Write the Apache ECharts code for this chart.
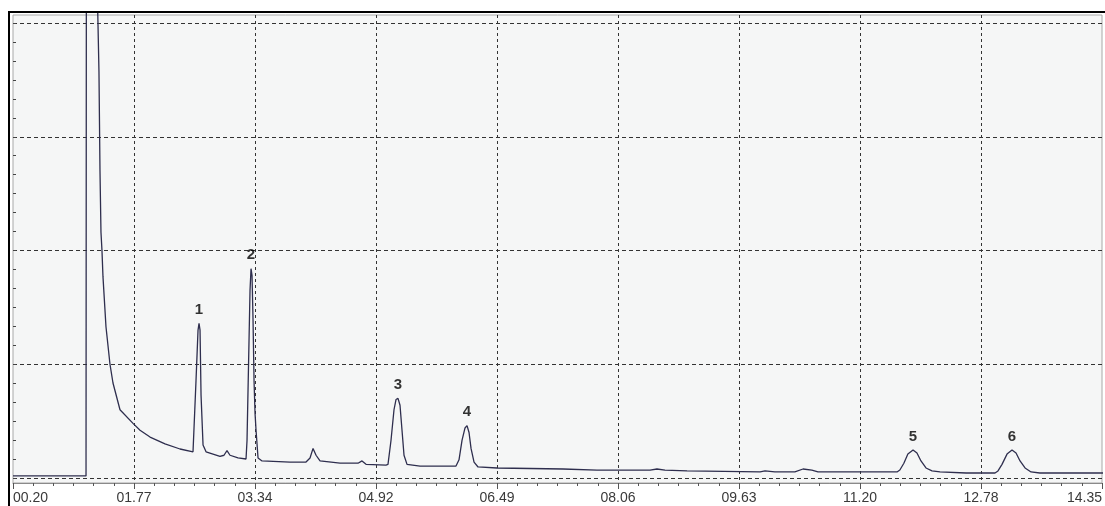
<!DOCTYPE html>
<html>
<head>
<meta charset="utf-8">
<script src="https://cdn.jsdelivr.net/npm/echarts@6/dist/echarts.min.js"></script>
<style>
  html, body { margin: 0; padding: 0; background: #ffffff; }
  #chart { width: 1105px; height: 506px; }
</style>
</head>
<body>
<div id="chart"></div>
<script>
// Retention time axis (min) and its printed tick labels
const timeMin = 0.20;
const timeMax = 14.35;
const timeTickLabels = ['00.20', '01.77', '03.34', '04.92', '06.49', '08.06', '09.63', '11.20', '12.78', '14.35'];

// Detector trace: retention time (min) and signal (arbitrary units, 100 per grid division)
// The solvent front runs off scale; its plateau sits at the top of the frame.
const traceTime = [
  0.200, 1.148, 1.152, 1.300, 1.316, 1.329, 1.342, 1.355, 1.368, 1.407,
  1.459, 1.498, 1.589, 1.758, 1.849, 1.979, 2.173, 2.368, 2.537,
  2.550, 2.576, 2.602, 2.615, 2.628, 2.641, 2.667, 2.706, 2.887, 2.939,
  2.978, 3.017, 3.121, 3.225,
  3.238, 3.264, 3.277, 3.290, 3.303, 3.316, 3.329, 3.342, 3.355, 3.381,
  3.433, 3.796, 4.004, 4.056, 4.095, 4.134, 4.186, 4.445, 4.679, 4.731,
  4.783, 5.042,
  5.068, 5.107, 5.146, 5.172, 5.198, 5.224, 5.250, 5.276, 5.315, 5.484,
  5.951,
  5.990, 6.029, 6.068, 6.094, 6.120, 6.146, 6.185, 6.237, 6.483, 7.340,
  7.781, 8.470, 8.560, 8.664, 8.950, 9.898, 9.963, 10.090, 10.350, 10.456,
  10.570, 10.650, 11.676,
  11.713, 11.765, 11.817, 11.884, 11.935, 11.987, 12.052, 12.130, 12.234, 12.572,
  12.948,
  12.987, 13.039, 13.104, 13.169, 13.221, 13.273, 13.338, 13.416, 13.530, 14.350
];
const traceSignal = [
  1.8, 1.8, 410, 410, 357, 271, 216, 200, 177, 133,
  100, 83.5, 60, 48, 42, 36, 30, 25.5, 23,
  23, 86, 130, 136, 130, 73, 29, 23, 19, 20,
  24, 20, 17.6, 16.7,
  33, 121, 165, 184, 178, 139, 86, 57, 42, 17.6,
  15, 14, 14, 17.6, 26, 20, 15, 13, 13, 15,
  12, 11.4,
  12, 33, 60, 69, 70, 64, 42, 20, 12, 10.5,
  10.5,
  16, 33, 44, 46, 40, 26, 14, 9.7, 8.8, 7.9,
  7, 7, 7.9, 7, 6.2, 5.3, 6.2, 5.3, 5.3, 7.9,
  7, 5.3, 5.3,
  7, 13, 21, 24.6, 22, 15, 8.8, 6.2, 5.3, 4.4,
  4.4,
  6.2, 12, 21, 24.6, 22, 15, 8.8, 5.3, 4.4, 4.4
];

// Numbered peaks and their apex retention times
const peakNames = ['1', '2', '3', '4', '5', '6'];
const peakTimes = [2.615, 3.290, 5.198, 6.094, 11.884, 13.169];

const traceData = traceTime.map((t, i) => [t, traceSignal[i]]);
const peakData = peakNames.map((name, i) => {
  const idx = traceTime.indexOf(peakTimes[i]);
  return { name: name, value: [peakTimes[i], traceSignal[idx]] };
});

// Plot frame layout (px)
const W = 1105, H = 506;
const frame = { left: 13, top: 15, right: 2, bottom: 23 };
const inner = { left: 13, top: 23, right: 2, bottom: 28 };
const timeStep = (timeMax - timeMin) / (timeTickLabels.length - 1);

const chart = echarts.init(document.getElementById('chart'), null, { renderer: 'canvas' });

const xCommon = {
  type: 'value',
  min: timeMin,
  max: timeMax,
  interval: timeStep
};

chart.setOption({
  animation: false,
  backgroundColor: '#ffffff',
  graphic: [
    {
      type: 'polyline',
      z: 100,
      silent: true,
      shape: { points: [[9, H], [9, 12], [W, 12]] },
      style: { stroke: '#000000', lineWidth: 2, fill: null }
    }
  ],
  grid: [
    {
      left: frame.left, top: frame.top, right: frame.right, bottom: frame.bottom,
      show: true, backgroundColor: '#f5f6f6', borderColor: '#a8a8a8', borderWidth: 1
    },
    {
      left: inner.left, top: inner.top, right: inner.right, bottom: inner.bottom,
      show: false
    }
  ],
  xAxis: [
    Object.assign({}, xCommon, {
      gridIndex: 0,
      position: 'bottom',
      axisLine: { show: true, lineStyle: { color: '#8a8a8a', width: 1 } },
      axisTick: { show: true, inside: false, length: 6, lineStyle: { color: '#555555' } },
      minorTick: { show: true, splitNumber: 6, length: 3, lineStyle: { color: '#555555' } },
      splitLine: {
        show: true, showMinLine: false, showMaxLine: false,
        lineStyle: { color: '#333333', type: [3, 3], width: 1 }
      },
      axisLabel: {
        show: true,
        margin: 8,
        color: '#3a3a3a',
        fontFamily: 'Liberation Sans, Arial, sans-serif',
        fontSize: 14,
        alignMinLabel: 'left',
        alignMaxLabel: 'right',
        formatter: function (value) {
          const k = Math.round((value - timeMin) / timeStep);
          return timeTickLabels[k] || '';
        }
      }
    }),
    Object.assign({}, xCommon, {
      gridIndex: 1,
      show: false
    })
  ],
  yAxis: [
    {
      type: 'value', gridIndex: 0, min: 0, max: 1, show: false
    },
    {
      type: 'value',
      gridIndex: 1,
      min: 0,
      max: 400,
      interval: 100,
      axisLine: { show: false },
      axisLabel: { show: false },
      axisTick: { show: true, inside: true, length: 3, lineStyle: { color: '#444444' } },
      minorTick: { show: true, splitNumber: 6, length: 3, lineStyle: { color: '#444444' } },
      splitLine: { show: true, lineStyle: { color: '#333333', type: [4, 3], width: 1 } }
    }
  ],
  series: [
    {
      type: 'line',
      xAxisIndex: 1,
      yAxisIndex: 1,
      data: traceData,
      clip: false,
      symbol: 'none',
      silent: true,
      lineStyle: { color: '#2e2e4e', width: 1.3 },
      z: 5
    },
    {
      type: 'scatter',
      xAxisIndex: 1,
      yAxisIndex: 1,
      data: peakData,
      symbolSize: 0,
      silent: true,
      label: {
        show: true,
        position: 'top',
        distance: 6,
        formatter: '{b}',
        color: '#000000',
        fontFamily: 'Liberation Sans, Arial, sans-serif',
        fontWeight: 'bold',
        fontSize: 15
      },
      z: 6
    }
  ]
});
</script>
</body>
</html>
